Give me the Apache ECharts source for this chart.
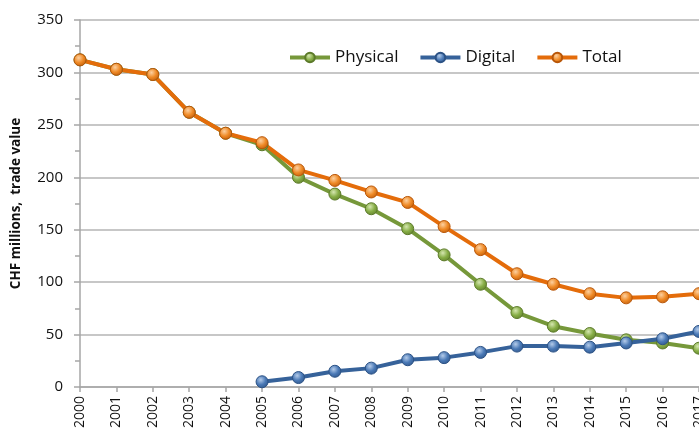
<!DOCTYPE html>
<html>
<head>
<meta charset="utf-8">
<script src="https://cdn.jsdelivr.net/npm/echarts@6/dist/echarts.min.js"></script>
<style>
  html, body { margin: 0; padding: 0; background: #fff; }
  #chart { width: 699px; height: 437px; }
</style>
</head>
<body>
<div id="chart"></div>
<script>
const years = ['2000', '2001', '2002', '2003', '2004', '2005', '2006', '2007', '2008',
  '2009', '2010', '2011', '2012', '2013', '2014', '2015', '2016', '2017']
const physical = [312, 303, 298, 262, 242, 231, 200, 184, 170, 151, 126, 98, 71, 58, 51, 45, 42, 37]
const digital = [null, null, null, null, null, 5, 9, 15, 18, 26, 28, 33, 39, 39, 38, 42, 46, 53]
const total = [312, 303, 298, 262, 242, 233, 207, 197, 186, 176, 153, 131, 108, 98, 89, 85, 86, 89]

const chart = echarts.init(document.getElementById('chart'))

const ball = (light, mid, dark) => new echarts.graphic.RadialGradient(0.4, 0.35, 0.75, [
  { offset: 0, color: light },
  { offset: 0.5, color: mid },
  { offset: 1, color: dark }
])

const makeSeries = (name, data, lineColor, light, mid, dark) => ({
  name: name,
  type: 'line',
  data: data,
  symbol: 'circle',
  symbolSize: 12,
  connectNulls: false,
  lineStyle: { color: lineColor, width: 4 },
  itemStyle: { color: ball(light, mid, dark), borderColor: dark, borderWidth: 1 },
  emphasis: { disabled: true }
})

const option = {
  animation: false,
  textStyle: { fontFamily: 'Open Sans, Liberation Sans, sans-serif' },
  legend: {
    left: 283,
    top: 44,
    itemWidth: 40,
    itemHeight: 12,
    itemGap: 20,
    lineStyle: { width: 4 },
    textStyle: { fontSize: 17, color: '#111', fontFamily: 'Open Sans' },
    data: ['Physical', 'Digital', 'Total']
  },
  grid: { left: 80, width: 619, top: 20, bottom: 50, containLabel: false, outerBoundsMode: 'none' },
  xAxis: {
    type: 'category',
    data: years,
    boundaryGap: false,
    axisLine: { lineStyle: { color: '#a6a6a6', width: 1.5 } },
    axisTick: { show: true, length: 5, lineStyle: { color: '#a6a6a6', width: 1.5 } },
    axisLabel: { rotate: 90, fontSize: 14, color: '#111', margin: 9, interval: 0 },
    splitLine: { show: false }
  },
  yAxis: {
    type: 'value',
    min: 0,
    max: 350,
    interval: 50,
    name: 'CHF millions,  trade value',
    nameLocation: 'middle',
    nameGap: 57,
    nameTextStyle: { fontSize: 13.5, fontWeight: 'bold', color: '#111' },
    axisLine: { show: true, lineStyle: { color: '#a6a6a6', width: 1.5 } },
    axisTick: { show: true, length: 6, lineStyle: { color: '#a6a6a6', width: 1.5 } },
    minorTick: { show: true, splitNumber: 2, length: 5, lineStyle: { color: '#a6a6a6', width: 1.5 } },
    axisLabel: { fontSize: 15, color: '#111', margin: 17 },
    splitLine: { show: true, lineStyle: { color: '#b5b5b5', width: 1.5 } }
  },
  series: [
    makeSeries('Physical', physical, '#76983a', '#d5e6b0', '#86ad45', '#5c7a2a'),
    makeSeries('Digital', digital, '#36629a', '#b4cbe9', '#4a79b6', '#2c5285'),
    makeSeries('Total', total, '#e46c0a', '#fcd0a0', '#ef8a26', '#b85608')
  ]
}

chart.setOption(option)
</script>
</body>
</html>
